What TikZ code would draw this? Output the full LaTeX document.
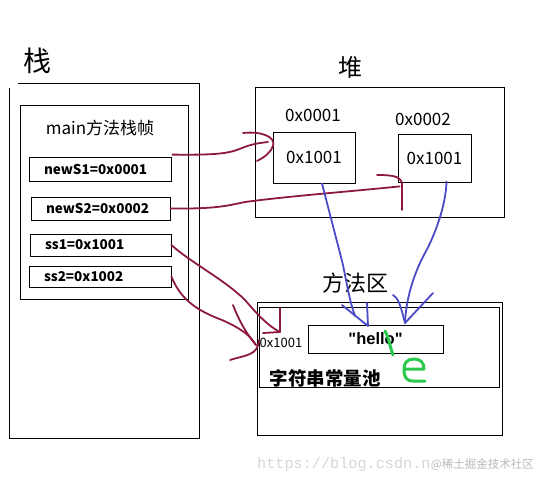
\documentclass[tikz,border=0pt]{standalone}
\usepackage{fontspec}
\setmainfont{Noto Sans CJK SC}
\newfontfamily\latinfont{Liberation Sans}
\newfontfamily\wmfont{Liberation Mono}
\definecolor{inkred}{HTML}{8C1A3C}
\definecolor{inkblue}{HTML}{4B4BC6}
\definecolor{inkgreen}{HTML}{2BC84E}
\newcommand{\fsz}[1]{\fontsize{#1}{#1}\selectfont}
\tikzset{
  frame/.style={draw, line width=0.8pt, inner sep=0pt},
  var/.style={frame, font=\bfseries\fsz{13.5}, inner xsep=15pt, align=left},
  ink/.style={line width=1.8pt, line cap=round, line join=round},
}

\begin{document}
\begin{tikzpicture}[x=1pt, y=-1pt]
    \useasboundingbox (0,0) rectangle (548,485);
    % Stapel met main-frame
    \node[font=\fsz{28}] (stacktitle) at (37,61) {栈};
    \draw[line width=0.9pt] (18,83) -- (199,83) -- (199,438) -- (9,438) -- (9,88);
    \node[frame, minimum width=168pt, minimum height=194pt] (mainframe) at (104,202) {};
    \node[font=\fsz{17}] (frametitle) at (100,128) {main方法栈帧};
    \node[var, text width=112pt, minimum height=24pt] (news1) at (100,169) {newS1=0x0001};
    \node[var, text width=109pt, minimum height=23pt] (news2) at (100.5,208.5) {newS2=0x0002};
    \node[var, text width=111pt, minimum height=22pt] (ss1) at (100.5,245) {ss1=0x1001};
    \node[var, text width=112pt, minimum height=21pt] (ss2) at (100,276.5) {ss2=0x1002};
    % Heap met twee objecten
    \node[font=\fsz{24}] (heaptitle) at (350,67) {堆};
    \node[frame, minimum width=249pt, minimum height=130pt] (heap) at (379.5,152) {};
    \node[font=\fsz{17}] (addr1) at (313,115) {0x0001};
    \node[frame, font=\fsz{17}, minimum width=82pt, minimum height=51pt] (obj1) at (314,157.5) {0x1001};
    \node[font=\fsz{17}] (addr2) at (423,119) {0x0002};
    \node[frame, font=\fsz{17}, minimum width=73pt, minimum height=48pt] (obj2) at (434.5,158) {0x1001};
    % Methodegebied met stringpool
    \node[font=\fsz{22}] (areatitle) at (355,283) {方法区};
    \node[frame, minimum width=245pt, minimum height=133pt] (area) at (379.5,368.5) {};
    \node[frame, minimum width=240pt, minimum height=80pt] (pool) at (379,347) {};
    \node[font=\fsz{13}] (addr3) at (281,343) {0x1001};
    \node[frame, font=\latinfont\bfseries\fsz{16.5}, minimum width=135pt, minimum height=28pt] (hello) at (375.5,339) {"hello"};
    \node[font=\bfseries\fsz{18.5}] (pooltitle) at (325,378.5) {字符串常量池};
    % Rode referenties vanuit de stapel
    \draw[ink, inkred] ([shift={(1,-2)}]news1.north east) .. controls (215,155) and (228,154) .. (242,148)
        .. controls (252,144) and (259,143) .. (268,142);
    \draw[ink, inkred] (243,133) .. controls (262,131) and (276,137) .. (273,146)
        .. controls (271,152) and (265,157) .. (257,161);
    \draw[ink, inkred] (news2.east) .. controls (215,209) and (226,206) .. (245,202)
        .. controls (290,196) and (345,192) .. ([shift={(2,4)}]obj2.south west);
    \draw[ink, inkred] (377,175) .. controls (392,175) and (401,176) .. (402,184) -- (402,210);
    \draw[ink, inkred] (ss1.east) .. controls (190,262) and (225,280) .. (245,300)
        .. controls (258,315) and (268,326) .. (280,332);
    \draw[ink, inkred] (263,333) -- (280,332) -- (280,308);
    \draw[ink, inkred] (ss2.east) .. controls (180,298) and (195,310) .. (222,320)
        .. controls (240,328) and (250,335) .. (256,345);
    \draw[ink, inkred] (233,305) .. controls (238,318) and (245,332) .. (256,345);
    \draw[ink, inkred] (230,360) .. controls (245,355) and (258,356) .. (259,340);
    % Blauwe verwijzingen naar "hello"
    \draw[ink, inkblue] ([xshift=8pt]obj1.south) .. controls (330,215) and (338,245) .. (343,265)
        .. controls (348,290) and (350,302) .. (355,316);
    \draw[ink, inkblue] (342,305) -- (368,326) -- (367,303);
    \draw[ink, inkblue] ([shift={(12,-1)}]obj2.south) .. controls (446,205) and (435,235) .. (425,253)
        .. controls (413,275) and (406,300) .. (405,323);
    \draw[ink, inkblue] (393,295) .. controls (398,298) and (400,303) .. (405,323) -- (433,293);
    % Groene krabbel
    \draw[line width=3pt, line cap=round, inkgreen] (385,331) .. controls (389,338) and (390,347) .. (393,355);
    \draw[line width=3pt, line cap=round, line join=round, inkgreen] (404,369) -- (424,369)
        .. controls (424,362) and (420,359) .. (414,359) .. controls (407,359) and (404,363) .. (404,369)
        .. controls (404,377) and (406,381) .. (413,381) -- (425,381);
    % Watermerk
    \node[font=\wmfont\fsz{15.2}, text=black!16, anchor=west, inner sep=0pt] (wmurl) at (257,465) {https://blog.csdn.n};
    \node[font=\fsz{11.5}, text=black!28, anchor=west, inner sep=0pt] (wmsite) at (wmurl.east) {@稀土掘金技术社区};
\end{tikzpicture}
\end{document}
